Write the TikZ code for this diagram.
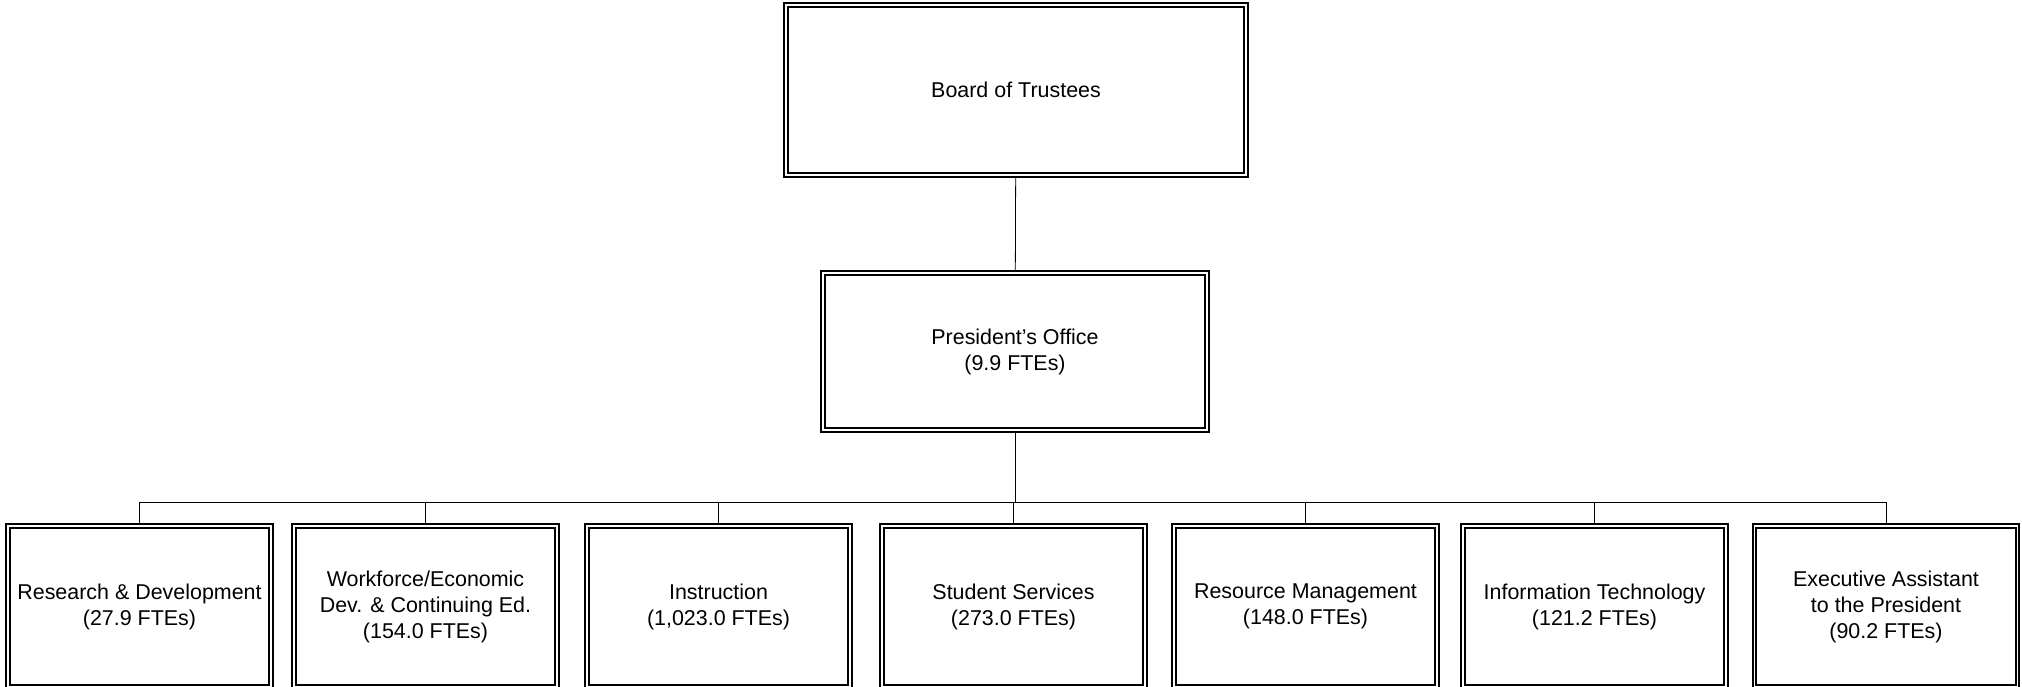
\documentclass[tikz,border=0pt]{standalone}
\usepackage{fontspec}
\setmainfont{Liberation Sans}

\begin{document}
\begin{tikzpicture}[
  unit/.style={draw, line width=1.1pt, double, double distance=0.8pt,
    align=center, inner sep=2pt, font=\fontsize{12.2}{14.8}\selectfont},
  link/.style={line width=0.45pt}
]
  \useasboundingbox (0,0) rectangle (40.44,-13.74);

  % Top boxes
  \node[unit, minimum width=9.2cm, minimum height=3.4cm] (board) at (20.32,-1.8) {Board of Trustees};
  \node[unit, minimum width=7.68cm, minimum height=3.14cm] (pres) at (20.3,-7.03) {President's Office\\(9.9 FTEs)};
  \draw[link] (board) -- (pres);

  % Bottom row
  \coordinate (bus) at (20.3,-10.04);
  \draw[link] (pres) -- (bus);
  \foreach \name/\x/\txt in {
      rd/2.79/{Research \& Development\\(27.9 FTEs)},
      wf/8.51/{Workforce/Economic\\Dev. \& Continuing Ed.\\(154.0 FTEs)},
      ins/14.37/{Instruction\\(1,023.0 FTEs)},
      ss/20.27/{Student Services\\(273.0 FTEs)},
      rm/26.11/{Resource Management\\(148.0 FTEs)},
      it/31.89/{Information Technology\\(121.2 FTEs)},
      ea/37.72/{Executive Assistant\\to the President\\(90.2 FTEs)}} {
    \node[unit, minimum width=5.26cm, minimum height=3.22cm] (\name) at (\x,-12.13) {\txt};
    \draw[link] (\name.north) |- (bus);
  }
\end{tikzpicture}
\end{document}
